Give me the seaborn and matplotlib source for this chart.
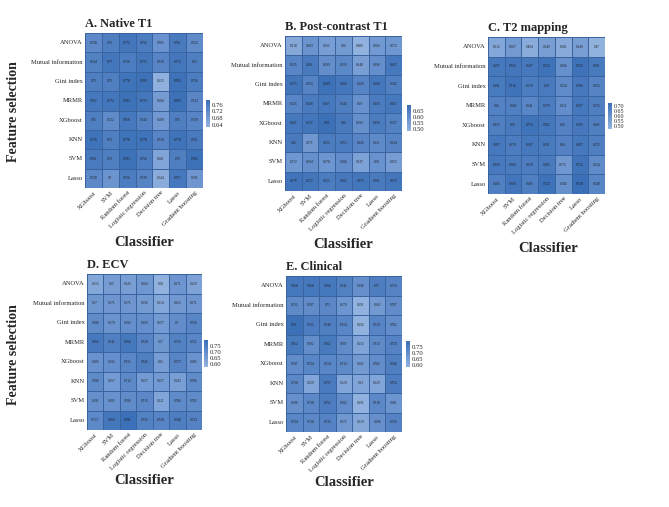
import numpy as np
import pandas as pd
import matplotlib
matplotlib.use("Agg")
import matplotlib.pyplot as plt
import seaborn as sns
from matplotlib.colors import LinearSegmentedColormap

classifiers = ["XGboost", "SVM", "Random forest", "Logistic regression",
               "Decision tree", "Lasso", "Gradient boosting"]
selectors = ["ANOVA", "Mutual information", "Gini index", "MRMR",
             "XGboost", "KNN", "SVM", "Lasso"]

native_t1 = [
    [0.728, 0.750, 0.772, 0.756, 0.705, 0.761, 0.722],
    [0.744, 0.770, 0.756, 0.772, 0.739, 0.772, 0.75],
    [0.75, 0.750, 0.778, 0.783, 0.633, 0.783, 0.756],
    [0.767, 0.772, 0.783, 0.772, 0.684, 0.783, 0.733],
    [0.750, 0.722, 0.768, 0.743, 0.689, 0.75, 0.739],
    [0.778, 0.750, 0.778, 0.778, 0.739, 0.778, 0.761],
    [0.761, 0.750, 0.783, 0.756, 0.661, 0.75, 0.783],
    [0.728, 0.7, 0.756, 0.739, 0.644, 0.767, 0.695],
]
post_contrast_t1 = [
    [0.518, 0.583, 0.551, 0.56, 0.489, 0.566, 0.572],
    [0.625, 0.661, 0.599, 0.619, 0.548, 0.596, 0.667],
    [0.675, 0.633, 0.689, 0.669, 0.629, 0.669, 0.643],
    [0.625, 0.658, 0.667, 0.645, 0.59, 0.655, 0.667],
    [0.667, 0.672, 0.690, 0.66, 0.593, 0.656, 0.637],
    [0.660, 0.571, 0.655, 0.653, 0.626, 0.611, 0.634],
    [0.572, 0.594, 0.578, 0.604, 0.537, 0.59, 0.555],
    [0.678, 0.672, 0.655, 0.666, 0.673, 0.661, 0.673],
]
t2_mapping = [
    [0.512, 0.567, 0.494, 0.549, 0.501, 0.549, 0.47],
    [0.697, 0.703, 0.697, 0.722, 0.604, 0.722, 0.691],
    [0.691, 0.716, 0.679, 0.69, 0.624, 0.696, 0.653],
    [0.66, 0.666, 0.641, 0.679, 0.611, 0.697, 0.672],
    [0.672, 0.69, 0.715, 0.702, 0.66, 0.696, 0.666],
    [0.697, 0.678, 0.697, 0.691, 0.66, 0.697, 0.672],
    [0.692, 0.684, 0.678, 0.685, 0.575, 0.715, 0.624],
    [0.666, 0.709, 0.666, 0.722, 0.604, 0.728, 0.648],
]
ecv = [
    [0.615, 0.650, 0.643, 0.664, 0.58, 0.671, 0.629],
    [0.67, 0.671, 0.671, 0.656, 0.614, 0.663, 0.671],
    [0.706, 0.679, 0.692, 0.693, 0.657, 0.7, 0.726],
    [0.762, 0.741, 0.768, 0.728, 0.67, 0.735, 0.721],
    [0.685, 0.692, 0.721, 0.745, 0.65, 0.727, 0.685],
    [0.706, 0.657, 0.712, 0.657, 0.657, 0.643, 0.706],
    [0.691, 0.685, 0.706, 0.715, 0.621, 0.706, 0.705],
    [0.713, 0.769, 0.791, 0.735, 0.728, 0.748, 0.733],
]
clinical = [
    [0.768, 0.768, 0.768, 0.741, 0.696, 0.75, 0.733],
    [0.712, 0.707, 0.720, 0.679, 0.591, 0.665, 0.707],
    [0.79, 0.751, 0.746, 0.724, 0.592, 0.729, 0.702],
    [0.762, 0.702, 0.762, 0.707, 0.633, 0.713, 0.735],
    [0.707, 0.724, 0.724, 0.713, 0.662, 0.702, 0.746],
    [0.718, 0.629, 0.757, 0.629, 0.63, 0.629, 0.752],
    [0.696, 0.718, 0.752, 0.702, 0.591, 0.718, 0.681],
    [0.724, 0.718, 0.735, 0.672, 0.619, 0.696, 0.735],
]

titles = ["A. Native T1", "B. Post-contrast T1", "C. T2 mapping", "D. ECV", "E. Clinical"]
datasets = [native_t1, post_contrast_t1, t2_mapping, ecv, clinical]
cbar_ticks = [[0.64, 0.68, 0.72, 0.76],
              [0.50, 0.55, 0.60, 0.65],
              [0.50, 0.55, 0.60, 0.65, 0.70],
              [0.60, 0.65, 0.70, 0.75],
              [0.60, 0.65, 0.70, 0.75]]

sns.set_style("white")
plt.rcParams['font.family'] = ['Liberation Serif', 'DejaVu Serif']

W, H = 669, 507
fig = plt.figure(figsize=(W / 100, H / 100), dpi=100)

def box(x0, y0, x1, y1):
    return [x0 / W, 1 - y1 / H, (x1 - x0) / W, (y1 - y0) / H]

hm_boxes = [(85, 33, 203, 188), (285, 36, 402, 191), (488, 37, 605, 194),
            (87, 274, 202, 430), (286, 276, 402, 432)]
cb_boxes = [(206, 100, 210, 127), (407, 105, 411, 131), (608, 103, 612, 129),
            (204, 340, 208, 367), (406, 341, 410, 367)]
xlabel_pos = [(144, 243), (343, 245), (548, 248), (144, 481), (344, 483)]

cmap = LinearSegmentedColormap.from_list("bl", ["#93b3df", "#6891cd", "#3a6fb7"])

for i, data in enumerate(datasets):
    df = pd.DataFrame(data, index=selectors, columns=classifiers)
    ax = fig.add_axes(box(*hm_boxes[i]))
    cax = fig.add_axes(box(*cb_boxes[i]))
    vals = np.array(data)
    sns.heatmap(df, ax=ax, cbar_ax=cax, cmap=cmap, annot=True, fmt="g",
                annot_kws={"fontsize": 2.4, "color": "#1a1a1a"},
                linewidths=0.5, linecolor="#3a64a0",
                vmin=vals.min() - 0.005, vmax=vals.max() + 0.005)
    ax.set_xlabel("")
    ax.set_ylabel("")
    ax.tick_params(axis="both", length=0, pad=1.5)
    ax.set_yticklabels(selectors, rotation=0, fontsize=4.7)
    ax.set_xticklabels(classifiers, rotation=45, ha="right",
                       rotation_mode="anchor", fontsize=4.7)
    ax.set_title(titles[i], loc="left", fontsize=9, fontweight="bold", pad=4)
    cax.tick_params(length=0, labelsize=4.3 if len(cbar_ticks[i]) > 4 else 4.8, pad=1.5)
    cax.set_yticks(cbar_ticks[i])
    cax.set_yticklabels([f"{t:.2f}" for t in cbar_ticks[i]])
    for s in cax.spines.values():
        s.set_visible(False)
    cb = ax.collections[0].colorbar
    if cb is not None:
        cb.outline.set_visible(False)
    fig.text(xlabel_pos[i][0] / W, 1 - xlabel_pos[i][1] / H, "Classifier",
             ha="center", va="center", fontsize=10.5, fontweight="bold")

fig.text(14 / W, 1 - 112 / H, "Feature selection", rotation=90,
         ha="center", va="center", fontsize=10, fontweight="bold")
fig.text(14 / W, 1 - 355 / H, "Feature selection", rotation=90,
         ha="center", va="center", fontsize=10, fontweight="bold")

fig.savefig("out.png", dpi=100)
